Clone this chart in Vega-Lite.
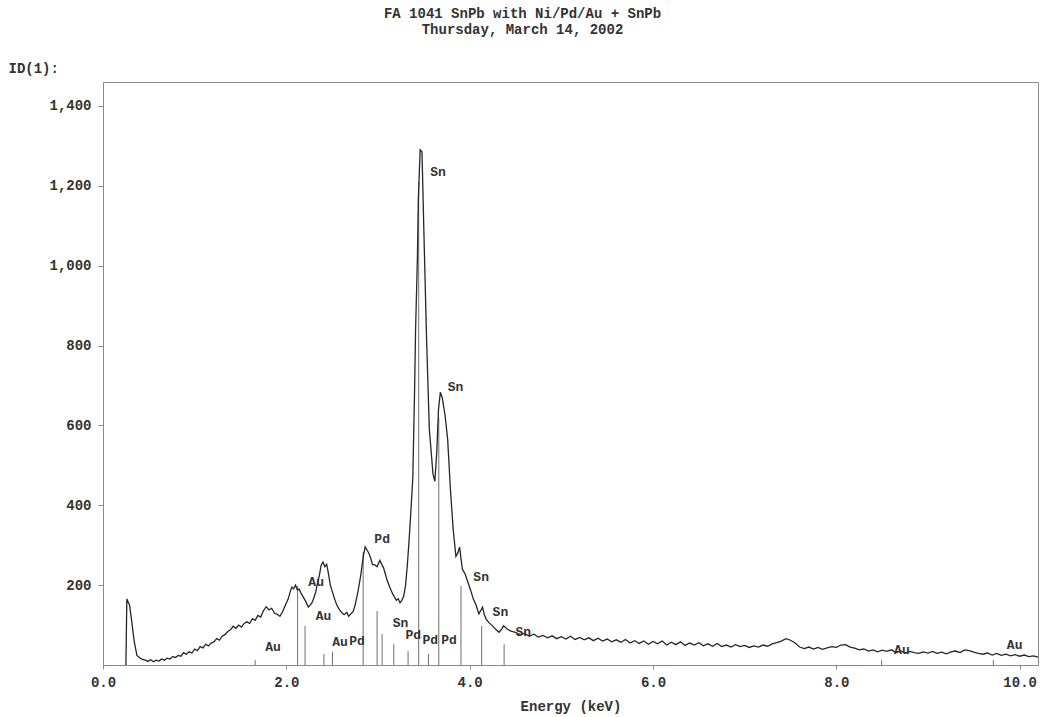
{
  "$schema": "https://vega.github.io/schema/vega-lite/v6.json",
  "width": 935,
  "height": 583,
  "autosize": {"type": "none"},
  "padding": {"left": 103, "top": 82, "right": 4, "bottom": 52},
  "background": "white",
  "title": {
    "text": ["FA 1041 SnPb with Ni/Pd/Au + SnPb", "Thursday, March 14, 2002"],
    "font": "Liberation Mono",
    "fontSize": 14,
    "fontWeight": "bold",
    "color": "#333333",
    "anchor": "middle",
    "dx": -48,
    "offset": 24,
    "lineHeight": 16
  },
  "config": {
    "view": {"stroke": "#8a8a8a", "strokeWidth": 1},
    "axis": {
      "grid": false,
      "labelFont": "Liberation Mono",
      "labelFontSize": 14,
      "labelFontWeight": "bold",
      "labelColor": "#333333",
      "titleFont": "Liberation Mono",
      "titleFontSize": 14,
      "titleFontWeight": "bold",
      "titleColor": "#333333",
      "domainColor": "#8a8a8a",
      "tickColor": "#8a8a8a"
    }
  },
  "datasets": {
    "spectrum": [
      {"E":0.25,"c":0},{"E":0.26,"c":165},{"E":0.29,"c":150},{"E":0.31,"c":115},{"E":0.34,"c":60},{"E":0.37,"c":24},
      {"E":0.40,"c":18},{"E":0.43,"c":14},{"E":0.46,"c":12},{"E":0.49,"c":9},{"E":0.52,"c":13},{"E":0.55,"c":8},{"E":0.58,"c":12},{"E":0.61,"c":10},{"E":0.64,"c":15},{"E":0.67,"c":12},{"E":0.70,"c":17},{"E":0.73,"c":15},{"E":0.76,"c":21},{"E":0.79,"c":19},{"E":0.82,"c":24},{"E":0.85,"c":22},{"E":0.88,"c":31},{"E":0.91,"c":27},{"E":0.94,"c":33},{"E":0.97,"c":30},{"E":1.00,"c":40},{"E":1.03,"c":36},{"E":1.06,"c":46},{"E":1.09,"c":43},{"E":1.12,"c":52},{"E":1.15,"c":48},{"E":1.18,"c":55},{"E":1.21,"c":58},{"E":1.24,"c":66},{"E":1.27,"c":62},{"E":1.30,"c":72},{"E":1.33,"c":76},{"E":1.36,"c":84},{"E":1.39,"c":88},{"E":1.42,"c":97},{"E":1.45,"c":92},{"E":1.48,"c":100},{"E":1.51,"c":95},{"E":1.54,"c":104},{"E":1.57,"c":108},{"E":1.60,"c":104},{"E":1.63,"c":116},{"E":1.66,"c":112},{"E":1.69,"c":124},{"E":1.72,"c":120},{"E":1.75,"c":136},{"E":1.78,"c":146},{"E":1.81,"c":138},{"E":1.84,"c":142},{"E":1.87,"c":130},{"E":1.90,"c":127},{"E":1.93,"c":122},{"E":1.96,"c":134},{"E":1.99,"c":150},{"E":2.02,"c":165},{"E":2.04,"c":182},{"E":2.06,"c":195},{"E":2.08,"c":191},{"E":2.10,"c":200},{"E":2.12,"c":188},{"E":2.14,"c":190},{"E":2.16,"c":180},{"E":2.18,"c":172},{"E":2.21,"c":160},{"E":2.24,"c":145},{"E":2.26,"c":150},{"E":2.28,"c":156},{"E":2.30,"c":168},{"E":2.32,"c":182},{"E":2.34,"c":205},{"E":2.36,"c":224},{"E":2.38,"c":250},{"E":2.40,"c":258},{"E":2.42,"c":246},{"E":2.44,"c":252},{"E":2.46,"c":228},{"E":2.48,"c":200},{"E":2.50,"c":185},{"E":2.52,"c":170},{"E":2.55,"c":150},{"E":2.58,"c":138},{"E":2.61,"c":130},{"E":2.63,"c":126},{"E":2.66,"c":132},{"E":2.68,"c":122},{"E":2.70,"c":127},{"E":2.73,"c":134},{"E":2.75,"c":150},{"E":2.78,"c":182},{"E":2.81,"c":222},{"E":2.84,"c":272},{"E":2.86,"c":296},{"E":2.88,"c":288},{"E":2.90,"c":280},{"E":2.92,"c":268},{"E":2.94,"c":252},{"E":2.97,"c":250},{"E":2.99,"c":246},{"E":3.02,"c":262},{"E":3.04,"c":252},{"E":3.06,"c":244},{"E":3.08,"c":228},{"E":3.10,"c":212},{"E":3.13,"c":194},{"E":3.16,"c":178},{"E":3.18,"c":170},{"E":3.20,"c":162},{"E":3.22,"c":166},{"E":3.24,"c":156},{"E":3.26,"c":162},{"E":3.28,"c":172},{"E":3.30,"c":198},{"E":3.32,"c":250},{"E":3.34,"c":315},{"E":3.36,"c":390},{"E":3.38,"c":470},{"E":3.40,"c":700},{"E":3.41,"c":840},{"E":3.43,"c":1020},{"E":3.44,"c":1165},{"E":3.46,"c":1290},{"E":3.48,"c":1285},{"E":3.50,"c":1090},{"E":3.53,"c":815},{"E":3.56,"c":590},{"E":3.60,"c":478},{"E":3.62,"c":460},{"E":3.64,"c":528},{"E":3.66,"c":640},{"E":3.68,"c":683},{"E":3.70,"c":670},{"E":3.73,"c":628},{"E":3.76,"c":565},{"E":3.79,"c":440},{"E":3.82,"c":340},{"E":3.85,"c":272},{"E":3.87,"c":280},{"E":3.89,"c":295},{"E":3.92,"c":240},{"E":3.95,"c":228},{"E":3.98,"c":208},{"E":4.01,"c":188},{"E":4.04,"c":165},{"E":4.07,"c":150},{"E":4.10,"c":128},{"E":4.12,"c":136},{"E":4.14,"c":145},{"E":4.16,"c":126},{"E":4.18,"c":115},{"E":4.21,"c":106},{"E":4.25,"c":98},{"E":4.28,"c":90},{"E":4.32,"c":82},{"E":4.35,"c":90},{"E":4.37,"c":98},{"E":4.41,"c":90},{"E":4.45,"c":85},
      {"E":4.50,"c":82},{"E":4.55,"c":76},{"E":4.60,"c":79},{"E":4.65,"c":72},{"E":4.70,"c":77},{"E":4.75,"c":70},{"E":4.80,"c":74},{"E":4.85,"c":68},{"E":4.90,"c":73},{"E":4.95,"c":66},{"E":5.00,"c":71},{"E":5.05,"c":65},{"E":5.10,"c":72},{"E":5.15,"c":64},{"E":5.20,"c":69},{"E":5.25,"c":63},{"E":5.30,"c":68},{"E":5.35,"c":61},{"E":5.40,"c":67},{"E":5.45,"c":60},{"E":5.50,"c":65},{"E":5.55,"c":58},{"E":5.60,"c":63},{"E":5.65,"c":57},{"E":5.70,"c":64},{"E":5.75,"c":55},{"E":5.80,"c":61},{"E":5.85,"c":54},{"E":5.90,"c":60},{"E":5.95,"c":52},{"E":6.00,"c":59},{"E":6.05,"c":53},{"E":6.10,"c":60},{"E":6.15,"c":50},{"E":6.20,"c":57},{"E":6.25,"c":51},{"E":6.30,"c":58},{"E":6.35,"c":49},{"E":6.40,"c":55},{"E":6.45,"c":50},{"E":6.50,"c":56},{"E":6.55,"c":48},{"E":6.60,"c":53},{"E":6.65,"c":47},{"E":6.70,"c":54},{"E":6.75,"c":46},{"E":6.80,"c":50},{"E":6.85,"c":45},{"E":6.90,"c":51},{"E":6.95,"c":46},{"E":7.00,"c":49},{"E":7.05,"c":44},{"E":7.10,"c":48},{"E":7.15,"c":45},{"E":7.20,"c":50},{"E":7.25,"c":47},{"E":7.30,"c":53},{"E":7.35,"c":56},{"E":7.40,"c":60},{"E":7.45,"c":66},{"E":7.50,"c":62},{"E":7.55,"c":55},{"E":7.60,"c":45},{"E":7.65,"c":41},{"E":7.70,"c":45},{"E":7.75,"c":40},{"E":7.80,"c":44},{"E":7.85,"c":39},{"E":7.90,"c":43},{"E":7.95,"c":46},{"E":8.00,"c":44},{"E":8.05,"c":50},{"E":8.10,"c":51},{"E":8.15,"c":45},{"E":8.20,"c":42},{"E":8.25,"c":38},{"E":8.30,"c":40},{"E":8.35,"c":35},{"E":8.40,"c":38},{"E":8.45,"c":33},{"E":8.50,"c":37},{"E":8.55,"c":34},{"E":8.60,"c":38},{"E":8.65,"c":31},{"E":8.70,"c":35},{"E":8.75,"c":30},{"E":8.80,"c":34},{"E":8.85,"c":31},{"E":8.90,"c":29},{"E":8.95,"c":33},{"E":9.00,"c":30},{"E":9.05,"c":34},{"E":9.10,"c":29},{"E":9.15,"c":32},{"E":9.20,"c":28},{"E":9.25,"c":33},{"E":9.30,"c":35},{"E":9.35,"c":31},{"E":9.40,"c":38},{"E":9.45,"c":36},{"E":9.50,"c":32},{"E":9.55,"c":29},{"E":9.60,"c":27},{"E":9.65,"c":30},{"E":9.70,"c":25},{"E":9.75,"c":29},{"E":9.80,"c":24},{"E":9.85,"c":27},{"E":9.90,"c":23},{"E":9.95,"c":26},{"E":10.00,"c":22},{"E":10.05,"c":25},{"E":10.10,"c":21},{"E":10.15,"c":23},{"E":10.20,"c":20}
    ],
    "markers": [
      {"E":1.66,"h":12},{"E":2.123,"h":198},{"E":2.204,"h":98},{"E":2.41,"h":28},{"E":2.503,"h":33},{"E":2.838,"h":283},{"E":2.990,"h":135},{"E":3.045,"h":78},{"E":3.172,"h":52},{"E":3.328,"h":35},{"E":3.444,"h":1210},{"E":3.55,"h":28},{"E":3.663,"h":620},{"E":3.905,"h":198},{"E":4.131,"h":98},{"E":4.376,"h":52},{"E":8.494,"h":12},{"E":9.713,"h":12}
    ],
    "labels": [
      {"E":3.57,"v":1235,"t":"Sn"},{"E":3.76,"v":695,"t":"Sn"},{"E":2.96,"v":315,"t":"Pd"},{"E":2.24,"v":208,"t":"Au"},{"E":2.32,"v":123,"t":"Au"},{"E":1.77,"v":45,"t":"Au"},{"E":2.50,"v":58,"t":"Au"},{"E":2.685,"v":60,"t":"Pd"},{"E":3.16,"v":106,"t":"Sn"},{"E":3.30,"v":74,"t":"Pd"},{"E":3.485,"v":62,"t":"Pd"},{"E":3.69,"v":62,"t":"Pd"},{"E":4.04,"v":220,"t":"Sn"},{"E":4.25,"v":132,"t":"Sn"},{"E":4.50,"v":82,"t":"Sn"},{"E":8.63,"v":38,"t":"Au"},{"E":9.86,"v":50,"t":"Au"}
    ]
  },
  "layer": [
    {
      "data": {"name": "markers"},
      "mark": {"type": "rule", "color": "#6e6e6e", "strokeWidth": 1},
      "encoding": {
        "x": {
          "field": "E",
          "type": "quantitative",
          "scale": {"domain": [0, 10.2], "nice": false, "zero": false},
          "axis": {
            "title": "Energy (keV)",
            "values": [0, 2, 4, 6, 8, 10],
            "format": ".1f",
            "tickSize": 4,
            "labelPadding": 6,
            "titlePadding": 10,
            "labelFlush": false
          }
        },
        "y": {
          "field": "h",
          "type": "quantitative",
          "scale": {"domain": [0, 1460], "nice": false},
          "axis": {
            "title": "ID(1):",
            "values": [200, 400, 600, 800, 1000, 1200, 1400],
            "format": ",d",
            "tickSize": 5,
            "labelPadding": 7,
            "titleAngle": 0,
            "titleAlign": "left",
            "titleBaseline": "middle",
            "titleX": -95,
            "titleY": -14
          }
        },
        "y2": {"datum": 0}
      }
    },
    {
      "data": {"name": "spectrum"},
      "mark": {"type": "line", "color": "#262626", "strokeWidth": 1.3},
      "encoding": {
        "x": {"field": "E", "type": "quantitative", "title": "Energy (keV)"},
        "y": {"field": "c", "type": "quantitative", "title": "ID(1):"}
      }
    },
    {
      "data": {"name": "labels"},
      "mark": {"type": "text", "align": "left", "baseline": "middle", "font": "Liberation Mono", "fontSize": 13, "fontWeight": "bold", "color": "#333333"},
      "encoding": {
        "x": {"field": "E", "type": "quantitative", "title": "Energy (keV)"},
        "y": {"field": "v", "type": "quantitative", "title": "ID(1):"},
        "text": {"field": "t", "type": "nominal"}
      }
    }
  ]
}
